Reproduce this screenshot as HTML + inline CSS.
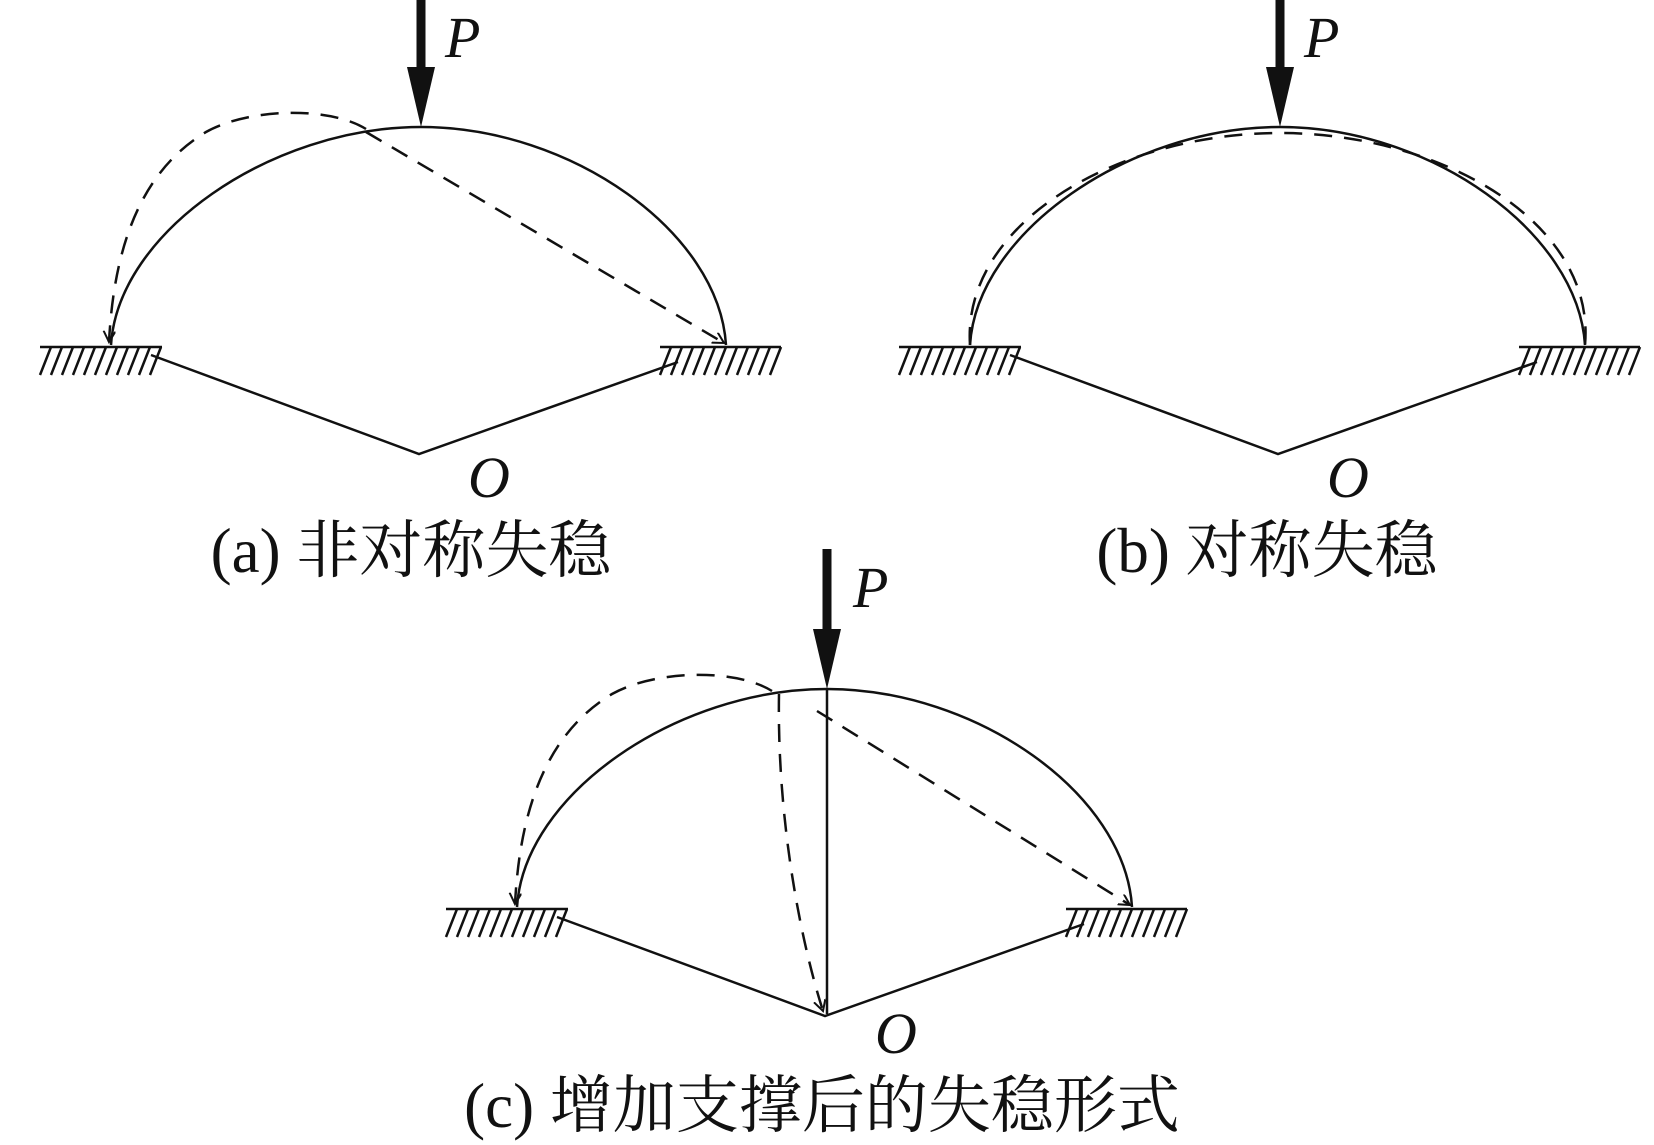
<!DOCTYPE html>
<html><head><meta charset="utf-8"><style>
html,body{margin:0;padding:0;background:#fff;}
svg{display:block;}
.cap{font-family:"Liberation Serif","Noto Serif CJK SC",serif;font-size:63px;fill:#111;}
.it{font-family:"Liberation Serif",serif;font-style:italic;font-size:58px;fill:#111;}
</style></head><body>
<svg width="1654" height="1145" viewBox="0 0 1654 1145" xmlns="http://www.w3.org/2000/svg">
<defs>
<marker id="ah" markerWidth="14" markerHeight="14" refX="11" refY="6" orient="auto" markerUnits="userSpaceOnUse">
<path d="M0,0 L11,6 L0,12" fill="none" stroke="#111" stroke-width="2"/>
</marker>
<g id="base" stroke="#111" fill="none">
<path d="M-310,218 C-303,105 -150,0 0,0 C150,0 298,105 305,218" stroke-width="2.5"/>
<line x1="-381" y1="220" x2="-259" y2="220" stroke-width="2.5"/>
<line x1="239" y1="220" x2="360" y2="220" stroke-width="2.5"/>
<path stroke-width="2.5" d="M-370,220 l-11,28 M-359,220 l-11,28 M-348,220 l-11,28 M-337,220 l-11,28 M-326,220 l-11,28 M-315,220 l-11,28 M-304,220 l-11,28 M-293,220 l-11,28 M-282,220 l-11,28 M-271,220 l-11,28 M-260,220 l-11,28
M250,220 l-11,28 M261,220 l-11,28 M272,220 l-11,28 M283,220 l-11,28 M294,220 l-11,28 M305,220 l-11,28 M316,220 l-11,28 M327,220 l-11,28 M338,220 l-11,28 M349,220 l-11,28 M360,220 l-11,28"/>
<polyline points="-270,228 -2,327 257,235" stroke-width="2.5"/>
</g>
<g id="arrow">
<rect x="-4.5" y="-140" width="9" height="85" fill="#111"/>
<polygon points="-14,-60 14,-60 0,0" fill="#111"/>
</g>
</defs>

<!-- (a) -->
<g transform="translate(421,127)">
<use href="#base"/>
<use href="#arrow"/>
<path d="M-55,2 C-90,-20 -170,-20 -215,5 C-290,50 -308,140 -312,215" fill="none" stroke="#111" stroke-width="2.5" stroke-dasharray="18,12" marker-end="url(#ah)"/>
<line x1="-55" y1="5" x2="303" y2="216" stroke="#111" stroke-width="2.5" stroke-dasharray="18,12" marker-end="url(#ah)"/>
<text x="24" y="-70" class="it">P</text>
<text x="47" y="370" class="it">O</text>
</g>
<text x="411" y="572" class="cap" text-anchor="middle">(a) 非对称失稳</text>

<!-- (b) -->
<g transform="translate(1280,127)">
<use href="#base"/>
<use href="#arrow"/>
<path d="M-310,218 C-318,95 -160,6 0,6 C160,6 316,95 305,218" fill="none" stroke="#111" stroke-width="2.5" stroke-dasharray="18,12"/>
<text x="24" y="-70" class="it">P</text>
<text x="47" y="370" class="it">O</text>
</g>
<text x="1267" y="572" class="cap" text-anchor="middle">(b) 对称失稳</text>

<!-- (c) -->
<g transform="translate(827,689)">
<use href="#base"/>
<use href="#arrow"/>
<line x1="0" y1="0" x2="0" y2="325" stroke="#111" stroke-width="2.5"/>
<path d="M-55,2 C-90,-20 -170,-20 -215,5 C-290,50 -308,140 -312,215" fill="none" stroke="#111" stroke-width="2.5" stroke-dasharray="18,12" marker-end="url(#ah)"/>
<path d="M-48,5 C-50,120 -30,240 -4,322" fill="none" stroke="#111" stroke-width="2.5" stroke-dasharray="18,12" marker-end="url(#ah)"/>
<line x1="-10" y1="22" x2="303" y2="216" stroke="#111" stroke-width="2.5" stroke-dasharray="18,12" marker-end="url(#ah)"/>
<text x="26" y="-82" class="it">P</text>
<text x="48" y="364" class="it">O</text>
</g>
<text x="822" y="1127" class="cap" text-anchor="middle">(c) 增加支撑后的失稳形式</text>
</svg>
</body></html>
